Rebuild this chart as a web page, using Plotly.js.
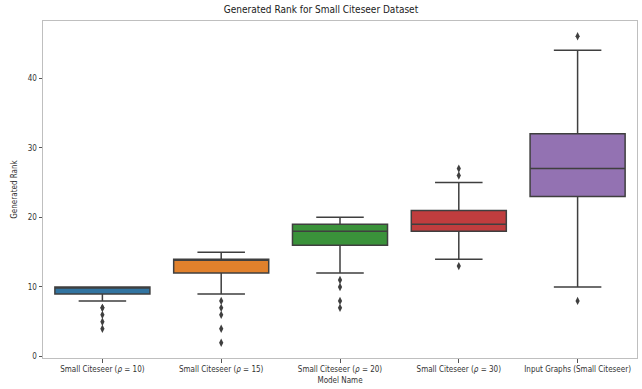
<!DOCTYPE html>
<html>
<head>
<meta charset="utf-8">
<script src="https://cdn.plot.ly/plotly-3.0.1.min.js"></script>
<style>html,body{margin:0;padding:0;background:#fff;}#chart{width:642px;height:389px;}</style>
</head>
<body>
<div id="chart"></div>
<script>
const categories = ["Small Citeseer (<i>ρ</i> = 10)", "Small Citeseer (<i>ρ</i> = 15)", "Small Citeseer (<i>ρ</i> = 20)", "Small Citeseer (<i>ρ</i> = 30)", "Input Graphs (Small Citeseer)"];
const q1 = [9, 12, 16, 18, 23];
const median = [10, 14, 18, 19, 27];
const q3 = [10, 14, 19, 21, 32];
const lowerWhisker = [8, 9, 12, 14, 10];
const upperWhisker = [10, 15, 20, 25, 44];
const outliers = [
  [7, 7, 6, 5, 4],
  [8, 7, 6, 4, 2],
  [11, 10, 8, 7],
  [27, 26, 13],
  [46, 8]
];
const colors = ["#3274a1", "#e1812c", "#3a923a", "#c03d3e", "#9372b2"];
const yTicks = [0, 10, 20, 30, 40];

const traces = [];
categories.forEach((c, i) => {
  traces.push({
    type: 'box',
    x: [i],
    q1: [q1[i]], median: [median[i]], q3: [q3[i]],
    lowerfence: [lowerWhisker[i]], upperfence: [upperWhisker[i]],
    width: 0.8,
    whiskerwidth: 0.5,
    fillcolor: colors[i],
    line: {color: '#3f3f3f', width: 1.5},
    boxpoints: false,
    hoverinfo: 'skip',
    showlegend: false
  });
  traces.push({
    type: 'scatter', mode: 'markers',
    x: outliers[i].map(() => i),
    y: outliers[i],
    marker: {symbol: 'diamond-tall', size: 6, color: '#3f3f3f'},
    hoverinfo: 'skip',
    showlegend: false
  });
});

const fam = "'DejaVu Sans Condensed', 'DejaVu Sans', sans-serif";
const layout = {
  width: 642, height: 389,
  margin: {l: 43, r: 5, t: 21, b: 31},
  paper_bgcolor: '#fff', plot_bgcolor: '#fff',
  font: {family: fam, size: 8, color: '#262626'},
  title: {text: 'Generated Rank for Small Citeseer Dataset', font: {family: fam, size: 10, color: '#1a1a1a'}, x: 0.5, xanchor: 'center', y: 0.985, yanchor: 'top'},
  boxmode: 'overlay',
  xaxis: {
    range: [-0.5, 4.5],
    tickvals: [0, 1, 2, 3, 4], ticktext: categories,
    tickangle: 0,
    ticklabeloverflow: 'allow',
    showgrid: false, zeroline: false,
    showline: true, mirror: true, linecolor: '#bfbfbf', linewidth: 1,
    ticks: 'outside', ticklen: 3.5, tickcolor: '#555', tickwidth: 1,
    tickfont: {family: fam, size: 8, color: '#333'},
    title: {text: 'Model Name', font: {family: fam, size: 8, color: '#333'}, standoff: 4}
  },
  yaxis: {
    range: [-0.2, 48.2],
    tickvals: yTicks,
    showgrid: false, zeroline: false,
    showline: true, mirror: true, linecolor: '#bfbfbf', linewidth: 1,
    ticks: 'outside', ticklen: 3.5, tickcolor: '#555', tickwidth: 1,
    tickfont: {family: fam, size: 8, color: '#333'},
    title: {text: 'Generated Rank', font: {family: fam, size: 8, color: '#333'}, standoff: 8}
  }
};

Plotly.newPlot('chart', traces, layout, {displayModeBar: false, staticPlot: true});
</script>
</body>
</html>
